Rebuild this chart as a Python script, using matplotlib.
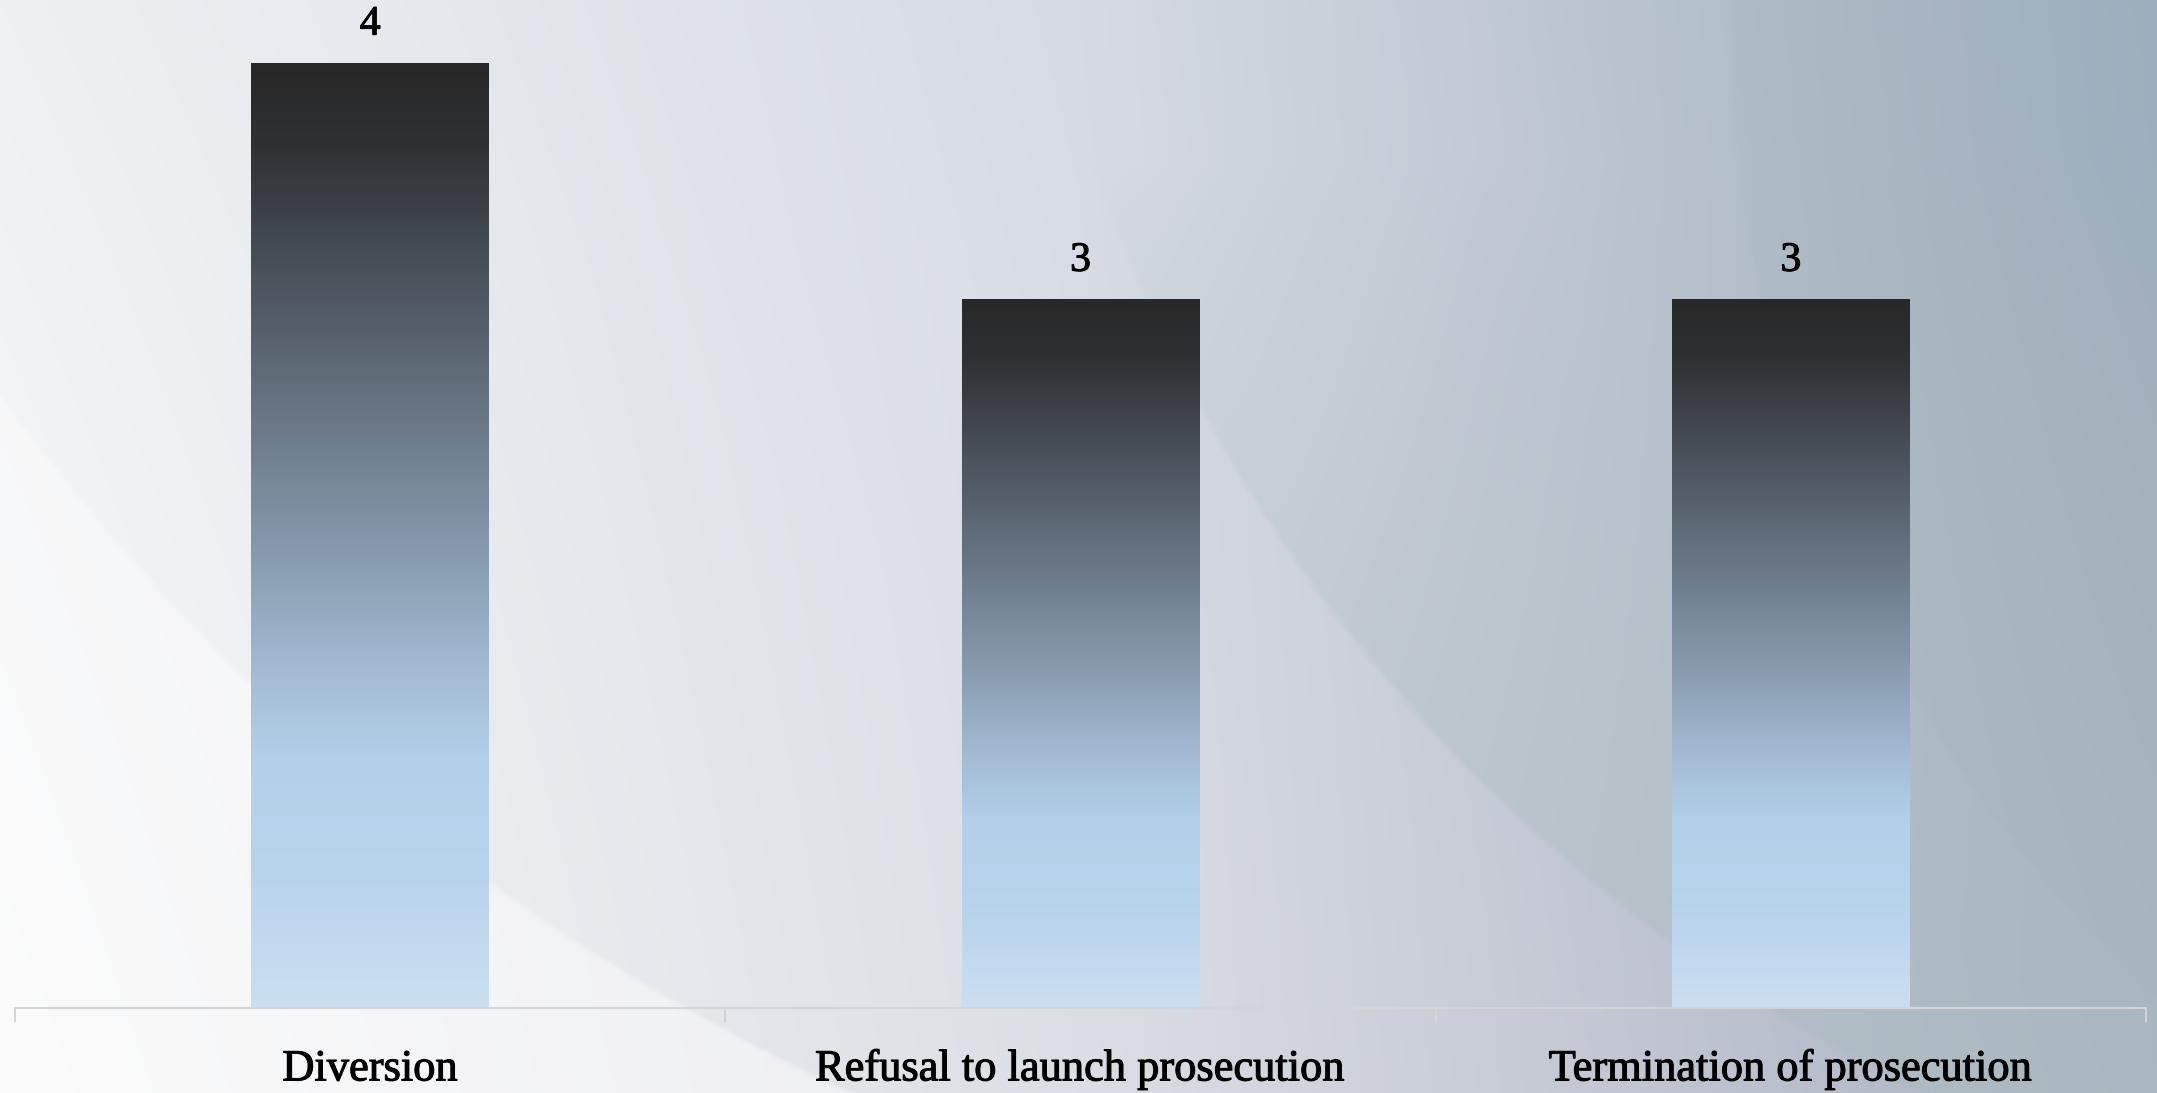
import numpy as np
import matplotlib
matplotlib.use("Agg")
import matplotlib.pyplot as plt
import matplotlib.patheffects as pe
from matplotlib.colors import LinearSegmentedColormap

# data
categories = ["Diversion", "Refusal to launch prosecution", "Termination of prosecution"]
counts = [4, 3, 3]

W, H = 2157, 1093
fig = plt.figure(figsize=(W / 100, H / 100), dpi=100)

# background: grey-blue gradient with big curved panels
bg_ax = fig.add_axes([0, 0, 1, 1])
bg_ax.set_axis_off()
h, w = 546, 1078
yy, xx = np.mgrid[0:h, 0:w]
px = xx / w * W
py = yy / h * H
u = px / W
v = py / H

left_top = np.array([238, 240, 243])
left_bot = np.array([250, 250, 251])
mid_top = np.array([214, 219, 227])
mid_bot = np.array([220, 222, 229])
right_top = np.array([156, 172, 188])
right_bot = np.array([168, 176, 192])

def lerp(a, b, t):
    return a[None, None, :] * (1 - t[..., None]) + b[None, None, :] * t[..., None]

top = np.where(u[..., None] < 0.5, lerp(left_top, mid_top, np.clip(u * 2, 0, 1)),
               lerp(mid_top, right_top, np.clip(u * 2 - 1, 0, 1)))
bot = np.where(u[..., None] < 0.5, lerp(left_bot, mid_bot, np.clip(u * 2, 0, 1)),
               lerp(mid_bot, right_bot, np.clip(u * 2 - 1, 0, 1)))
img = top * (1 - v[..., None]) + bot * v[..., None]

# lighter panel lower left
d1 = np.hypot(px - 1750, py + 872) - 2157
m1 = np.clip(d1 / 6, 0, 1)[..., None]
img = img * (1 - 0.5 * m1) + 252 * 0.5 * m1

# teal panel lower right, fading out towards the top
d2 = 1624 - np.hypot(px - 2622, py + 371)
m2 = (np.clip(d2 / 6, 0, 1) * 0.6 * np.clip((v - 0.15) / 0.85, 0, 1) ** 0.8)[..., None]
teal = np.array([172, 188, 192])
img = img * (1 - m2) + teal * m2

# faint third panel far right
d3 = 1333 - np.hypot(px - 3060, py - 19)
m3 = (np.clip(d3 / 6, 0, 1) * 0.22)[..., None]
teal2 = np.array([160, 178, 184])
img = img * (1 - m3) + teal2 * m3

bg_ax.imshow(np.clip(img, 0, 255).astype(np.uint8), extent=(0, 1, 0, 1),
             aspect="auto", interpolation="bilinear")
bg_ax.set_xlim(0, 1)
bg_ax.set_ylim(0, 1)

# main axes
ax = fig.add_axes([15 / W, 85 / H, 2131 / W, 1008 / H])
ax.patch.set_alpha(0)
x = np.arange(len(categories))
bar_w = 0.335
bars = ax.bar(x, counts, width=bar_w, color="none", edgecolor="none", zorder=2)

grad = LinearSegmentedColormap.from_list("bar", [
    (0.00, "#282828"),
    (0.08, "#2e3033"),
    (0.20, "#464d55"),
    (0.37, "#687684"),
    (0.54, "#8ca0b4"),
    (0.65, "#a5bcd5"),
    (0.74, "#b3d0ea"),
    (0.86, "#b8d3ec"),
    (1.00, "#cbdef1"),
])
col = np.linspace(0, 1, 256)[:, None]
for b in bars:
    x0 = b.get_x()
    ax.imshow(col, cmap=grad, extent=(x0, x0 + b.get_width(), 0, b.get_height()),
              aspect="auto", zorder=2, interpolation="bilinear")

ax.set_xlim(-0.5, 2.5)
ax.set_ylim(0, 1008 / 236.25)

heavy = [pe.withStroke(linewidth=0.8, foreground="black")]
for xi, c in zip(x, counts):
    ax.annotate(str(c), (xi, c), xytext=(0, 14), textcoords="offset points",
                ha="center", va="bottom", fontsize=30, family="Liberation Serif",
                color="black", path_effects=heavy)

for s in ax.spines.values():
    s.set_visible(False)
ax.set_yticks([])
ax.axhline(0, color="#d2d4d7", lw=1.5, zorder=3, clip_on=False)
ax.set_xticks([-0.5, 0.5, 1.5, 2.5])
ax.set_xticklabels([])
ax.tick_params(axis="x", length=10, width=1.5, color="#d2d4d7", direction="out")
for xi, name in zip(x, categories):
    ax.text(xi, -0.26, name, ha="center", va="center", fontsize=32,
            family="Liberation Serif", color="black", path_effects=heavy)

fig.savefig("out.png", dpi=100)
